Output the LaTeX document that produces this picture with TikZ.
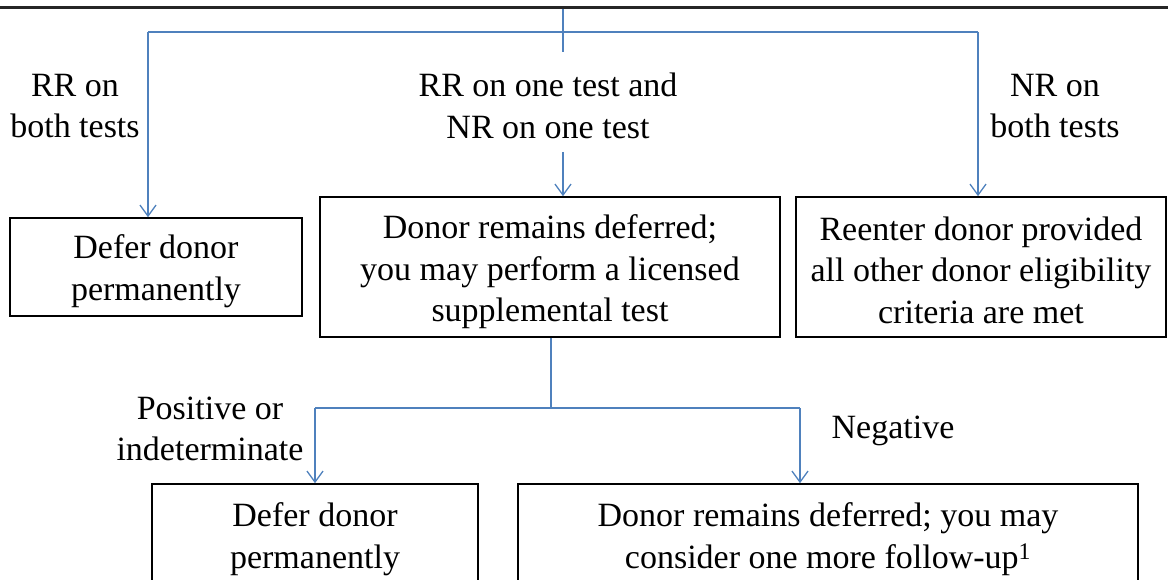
\documentclass[tikz,border=0pt]{standalone}
\usepackage{fontspec}
\setmainfont{Liberation Serif}
\usetikzlibrary{arrows.meta}
\definecolor{conncol}{RGB}{79,129,189}
\tikzset{
  box/.style={draw=black, line width=1.6pt, rectangle, inner sep=0pt},
  boxtext/.style={align=center, inner sep=0pt, font=\fontsize{34}{41.5}\selectfont},
  lab/.style={align=center, inner sep=0pt, font=\fontsize{34}{41.5}\selectfont},
  conn/.style={draw=conncol, line width=1.5pt},
  arr/.style={conn, -{Straight Barb[length=11pt,width=16pt,line width=1.3pt]}}
}
\begin{document}
\begin{tikzpicture}[x=1pt,y=-1pt]
\useasboundingbox (0,0) rectangle (1168,580);
\clip (0,0) rectangle (1168,580);
% cut-off top box
\node[draw=black!85, line width=3pt, minimum width=1200pt, minimum height=100pt, inner sep=0pt] (top) at (584,-42) {};
% boxes
\node[box, minimum width=292pt, minimum height=98pt] (b1) at (156,267) {};
\node[box, minimum width=460pt, minimum height=140pt] (b2) at (550,267) {};
\node[box, minimum width=370pt, minimum height=140pt] (b3) at (981,267) {};
\node[box, minimum width=326pt, minimum height=104pt] (b4) at (315,536) {};
\node[box, minimum width=620pt, minimum height=104pt] (b5) at (828,536) {};
% box texts
\node[boxtext] (t1) at ([yshift=-4pt]b1.center) {Defer donor\\permanently};
\node[boxtext] (t2) at ([yshift=-5pt]b2.center) {Donor remains deferred;\\you may perform a licensed\\supplemental test};
\node[boxtext] (t3) at ([yshift=-3pt]b3.center) {Reenter donor provided\\all other donor eligibility\\criteria are met};
\node[boxtext] (t4) at ([yshift=-3pt]b4.center) {Defer donor\\permanently};
\node[boxtext] (t5) at ([yshift=-3pt]b5.center) {Donor remains deferred; you may\\consider one more follow-up\textsuperscript{1}};
% labels
\node[lab] (l1) at (75,106) {RR on\\both tests};
\node[lab] (l2) at (548,106) {RR on one test and\\NR on one test};
\node[lab] (l3) at (1055,106) {NR on\\both tests};
\node[lab] (l4) at (210,429) {Positive or\\indeterminate};
\node[lab] (l5) at (893,431) {Negative};
% junctions
\coordinate (j1) at (563,32);
\coordinate (j1e) at (563,52);
\coordinate (jl) at (148,32);
\coordinate (jr) at (978,32);
\coordinate (m1) at (563,152);
\coordinate (j2) at (551,408);
\coordinate (jl2) at (315,408);
\coordinate (jr2) at (800,408);
% connectors
\draw[conn] (top.south -| j1) -- (j1e);
\draw[conn] (jl) -- (jr);
\draw[arr] (jl) -- (jl |- b1.north);
\draw[arr] (jr) -- (jr |- b3.north);
\draw[arr] (m1) -- (m1 |- b2.north);
\draw[conn] (j2 |- b2.south) -- (j2);
\draw[conn] (jl2) -- (jr2);
\draw[arr] (jl2) -- (jl2 |- b4.north);
\draw[arr] (jr2) -- (jr2 |- b5.north);
\end{tikzpicture}
\end{document}
